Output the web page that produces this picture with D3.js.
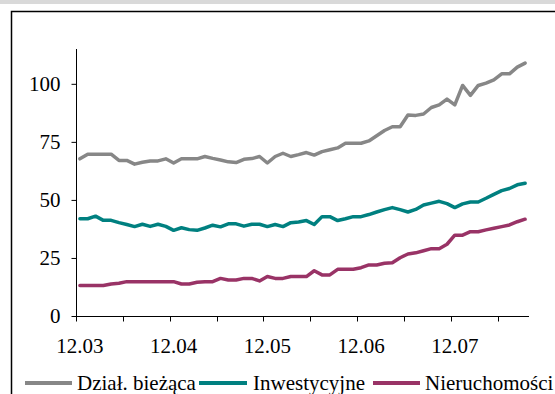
<!DOCTYPE html>
<html><head><meta charset="utf-8">
<script src="https://cdn.jsdelivr.net/npm/d3@7"></script>
<style>html,body{margin:0;padding:0;background:#fff;}svg{display:block;}</style>
</head><body>
<script>
const months = ["12.03",
"01.04","02.04","03.04","04.04","05.04","06.04","07.04","08.04","09.04","10.04","11.04","12.04",
"01.05","02.05","03.05","04.05","05.05","06.05","07.05","08.05","09.05","10.05","11.05","12.05",
"01.06","02.06","03.06","04.06","05.06","06.06","07.06","08.06","09.06","10.06","11.06","12.06",
"01.07","02.07","03.07","04.07","05.07","06.07","07.07","08.07","09.07","10.07","11.07","12.07",
"01.08","02.08","03.08","04.08","05.08","06.08","07.08","08.08","09.08"];
const dzialBiezaca = [67.7,69.7,69.7,69.7,69.7,67,67,65.4,66.2,66.8,66.8,67.7,65.9,67.7,67.7,
67.7,68.7,67.9,67.2,66.4,66.1,67.5,67.8,68.7,65.9,68.7,70.1,68.7,69.5,
70.4,69.3,70.8,71.6,72.4,74.4,74.4,74.4,75.4,77.6,79.9,81.5,81.5,86.6,86.4,
87,89.8,90.9,93.4,90.9,99.3,95,99.3,100.3,101.7,104.3,104.3,107.2,108.9];
const inwestycyjne = [41.9,41.9,43,41.2,41.2,40.2,39.4,38.5,39.5,38.6,39.5,38.6,36.9,38,37.2,
36.9,37.9,39.1,38.4,39.7,39.7,38.7,39.5,39.5,38.5,39.4,38.5,40.2,40.5,
41.1,39.4,42.8,42.8,41.1,41.9,42.8,42.8,43.7,44.8,45.8,46.7,45.8,44.8,45.9,
47.8,48.6,49.4,48.4,46.7,48.3,49.1,49.1,50.7,52.4,54,54.9,56.5,57.2];
const nieruchomosci = [13.1,13.1,13.1,13.1,13.8,14.1,14.8,14.8,14.8,14.8,14.8,14.8,14.8,13.8,13.8,
14.5,14.8,14.8,16.2,15.5,15.5,16.2,16.2,15.1,17,16.2,16.2,17,17,
17,19.5,17.7,17.7,20.1,20.1,20.1,20.8,22,22,22.7,22.9,25.1,26.7,27.2,
28.1,29,29,30.9,34.8,34.8,36.3,36.3,37.1,37.8,38.5,39.2,40.6,41.7];
const seriesNames = ["Dział. bieżąca","Inwestycyjne","Nieruchomości"];
const seriesColors = ["#878787","#008080","#993366"];
const yTicks = [0,25,50,75,100];
const xTickLabels = ["12.03","12.04","12.05","12.06","12.07"];

const W = 555, H = 394;
const svg = d3.select("body").append("svg").attr("width", W).attr("height", H);
svg.append("rect").attr("x",0).attr("y",0).attr("width",W).attr("height",H).attr("fill","#fff");
svg.append("rect").attr("x",0).attr("y",0).attr("width",W).attr("height",4).attr("fill","#d9d9d9");
// frame
svg.append("path").attr("d","M11.5,"+H+"V11.5H"+W).attr("fill","none").attr("stroke","#000").attr("stroke-width",1.5);

const font = "'Liberation Serif','Times New Roman',serif";
const x = d3.scaleBand().domain(months).range([76, 529]).padding(0);
const y = d3.scaleLinear().domain([0, 115]).range([316, 49]);

// y axis
const yAxis = svg.append("g").attr("transform","translate(76.5,0)")
  .call(d3.axisLeft(y).tickValues(yTicks).tickSize(5).tickPadding(11).tickFormat(d3.format("d")));
yAxis.select(".domain").attr("d","M0,"+y(115)+"V"+(y(0)+0.5)).attr("stroke","#000");
yAxis.selectAll(".tick line").attr("stroke","#000");
yAxis.selectAll(".tick text").attr("font-family",font).attr("font-size",21).attr("fill","#000").attr("dy","0.33em");

// x axis
const xa = svg.append("g").attr("transform","translate(0,316.5)");
xa.append("line").attr("x1",76).attr("x2",529).attr("y1",0).attr("y2",0).attr("stroke","#000");
const tickIdx = months.map((m,i)=>i).filter(i=>i%6===0);
xa.selectAll("line.tk").data(tickIdx).join("line").attr("class","tk")
  .attr("x1",i=>Math.round(x(months[i]))+0.5).attr("x2",i=>Math.round(x(months[i]))+0.5)
  .attr("y1",0).attr("y2",5).attr("stroke","#000");
xa.selectAll("text").data(xTickLabels).join("text")
  .attr("x",d=>x(d)+x.bandwidth()/2).attr("y",36)
  .attr("text-anchor","middle").attr("font-family",font).attr("font-size",21).attr("fill","#000")
  .text(d=>d);

// lines
const all = [dzialBiezaca, inwestycyjne, nieruchomosci];
const line = d3.line().x((d,i)=>x(months[i])+x.bandwidth()/2).y(d=>y(d));
all.forEach((s,k)=>{
  svg.append("path").datum(s).attr("d",line).attr("fill","none")
    .attr("stroke",seriesColors[k]).attr("stroke-width",3.5)
    .attr("stroke-linejoin","round").attr("stroke-linecap","round");
});

// legend
const legendX = [[25,72,77],[199,247,253],[373,420,425]];
seriesNames.forEach((n,k)=>{
  const [a,b,t] = legendX[k];
  svg.append("line").attr("x1",a).attr("x2",b).attr("y1",383).attr("y2",383)
    .attr("stroke",seriesColors[k]).attr("stroke-width",4);
  svg.append("text").attr("x",t).attr("y",390).attr("font-family",font).attr("font-size",21)
    .attr("fill","#000").text(n);
});
</script>
</body></html>
